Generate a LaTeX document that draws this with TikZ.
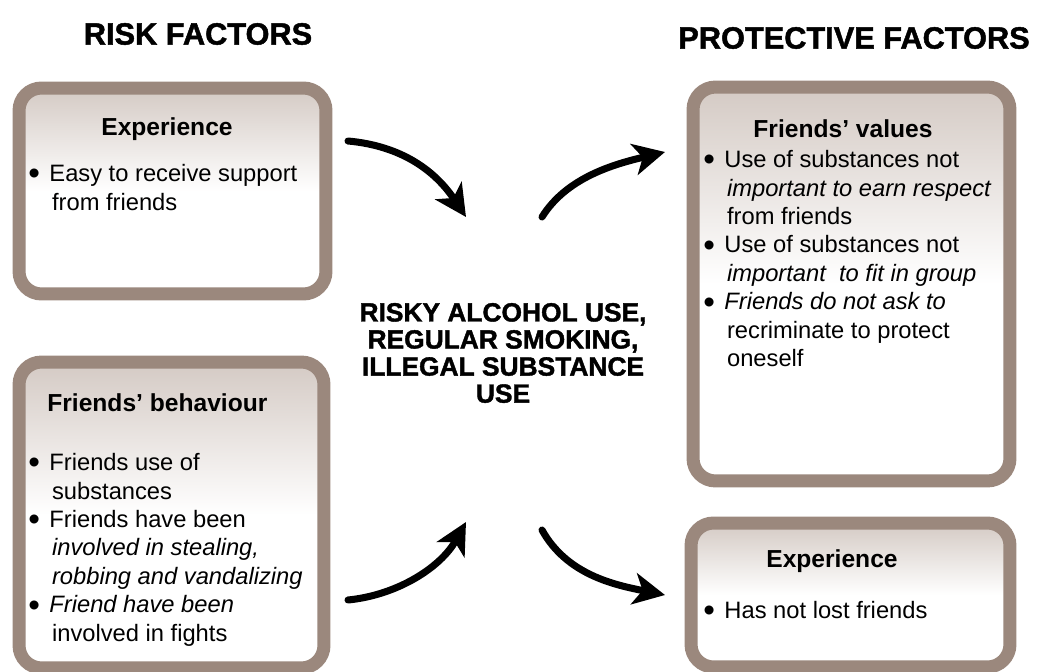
\documentclass[tikz,border=0pt]{standalone}
\usepackage{fontspec}
\setmainfont{Liberation Sans}
\newfontfamily\heavyfont[FakeBold=1.5]{Liberation Sans Bold}
\usetikzlibrary{positioning,arrows.meta}
\definecolor{boxborder}{RGB}{155,136,125}
\definecolor{boxtop}{RGB}{212,202,196}
\tikzset{%
  factor box/.style={
    draw=boxborder,
    line width=7.4pt,
    rounded corners=0.45cm,
    top color=boxtop,
    bottom color=white,
    middle color=white,
    inner sep=0pt
  },
  factor title/.style={
    font=\fontsize{17.5}{21}\selectfont\heavyfont
  },
  box head/.style={
    font=\fontsize{14}{17}\selectfont\bfseries,
    inner sep=0pt
  },
  box list/.style={
    font=\fontsize{13.5}{16.2}\selectfont,
    align=left,
    inner sep=0pt,
    anchor=north west
  },
  thick arrow/.style={
    -{Stealth[length=18pt,width=18pt,inset=5pt]},
    line width=4pt,
    line cap=round
  },
}
\newcommand{\bul}{\makebox[12pt][l]{\raisebox{-1.8pt}{\scalebox{1.4}{\textbullet}}}}
\newcommand{\ind}{\hspace*{13.5pt}}

\begin{document}
\begin{tikzpicture}[x=0.02cm, y=-0.02cm]
\useasboundingbox (0,0) rectangle (1041,672);

% titles
\node [factor title] (risk-title) at (198,34) {RISK FACTORS};
\node [factor title] (prot-title) at (854,38) {PROTECTIVE FACTORS};

% boxes
\node [factor box, minimum width=6.14cm, minimum height=4.12cm] (risk-exp) at (172.5,191) {};
\node [factor box, minimum width=6.10cm, minimum height=6.12cm] (risk-beh) at (171.5,515) {};
\node [factor box, minimum width=6.34cm, minimum height=7.88cm] (prot-val) at (851.5,284) {};
\node [factor box, minimum width=6.38cm, minimum height=2.88cm] (prot-exp) at (850.5,595) {};

% box headings
\node [box head] (risk-exp-head) at (167,129) {Experience};
\node [box head, anchor=west] (risk-beh-head) at (47,403) {Friends’ behaviour};
\node [box head] (prot-val-head) at (843,129) {Friends’ values};
\node [box head] (prot-exp-head) at (832,561) {Experience};

% box contents
\node [box list] (risk-exp-list) at (28,164) {\bul Easy to receive support\\
  \ind from friends};
\node [box list] (risk-beh-list) at (28,453) {\bul Friends use of\\
  \ind substances\\
  \bul Friends have been\\
  \ind \textit{involved in stealing,}\\
  \ind \textit{robbing and vandalizing}\\
  \bul \textit{Friend have been}\\
  \ind involved in fights};
\node [box list] (prot-val-list) at (703,150) {\bul Use of substances not\\
  \ind \textit{important to earn respect}\\
  \ind from friends\\
  \bul Use of substances not\\
  \ind \textit{important\ \ to fit in group}\\
  \bul \textit{Friends do not ask to}\\
  \ind recriminate to protect\\
  \ind oneself};
\node [box list] (prot-exp-list) at (703,601) {\bul Has not lost friends};

% outcome
\node [font=\fontsize{15}{15.4}\selectfont\heavyfont, align=center] (use) at (503,353)
  {RISKY ALCOHOL USE,\\REGULAR SMOKING,\\ILLEGAL SUBSTANCE\\USE};

% arrows
\coordinate (risk-exp-out) at (348,141);
\coordinate (use-in-top) at (466,217);
\coordinate (use-out-top) at (542,217);
\coordinate (prot-val-in) at (665,152);
\coordinate (risk-beh-out) at (348,600);
\coordinate (use-in-bot) at (466,522);
\coordinate (use-out-bot) at (542,530);
\coordinate (prot-exp-in) at (665,595);

\draw [thick arrow] (risk-exp-out) .. controls +(55,5) and +(-30,-45) .. (use-in-top);
\draw [thick arrow] (use-out-top) .. controls +(25,-40) and +(-50,12) .. (prot-val-in);
\draw [thick arrow] (risk-beh-out) .. controls +(50,-5) and +(-25,45) .. (use-in-bot);
\draw [thick arrow] (use-out-bot) .. controls +(25,45) and +(-50,-10) .. (prot-exp-in);

\end{tikzpicture}
\end{document}
